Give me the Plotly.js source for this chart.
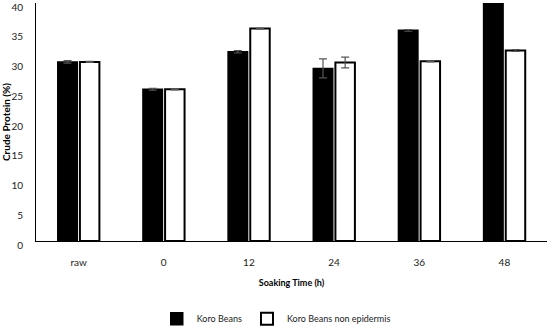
<!DOCTYPE html>
<html><head><meta charset="utf-8">
<script src="https://cdn.plot.ly/plotly-3.0.1.min.js"></script>
<style>html,body{margin:0;padding:0;background:#fff}#chart{width:550px;height:329px}</style>
</head><body><div id="chart"></div>
<script>
const categories = ["raw", "0", "12", "24", "36", "48"];
const koroBeans = [30.1, 25.5, 31.8, 29.0, 35.4, 40.5];
const koroBeansErr = [0.2, 0.15, 0.2, 1.6, 0.15, 0.2];
const koroNonEpidermis = [30.1, 25.5, 35.7, 30.0, 30.2, 32.0];
const koroNonEpidermisErr = [0.1, 0.1, 0.1, 0.9, 0.1, 0.15];
const yTicks = [0, 5, 10, 15, 20, 25, 30, 35, 40];

const font = "Lato, 'Open Sans', sans-serif";
const traces = [
  {type: "bar", name: "Koro Beans", x: categories, y: koroBeans,
   marker: {color: "#000", line: {color: "#000", width: 1.5}},
   error_y: {type: "data", array: koroBeansErr, visible: true, color: "#555", thickness: 1.2, width: 4}},
  {type: "bar", name: "Koro Beans non epidermis", x: categories, y: koroNonEpidermis,
   marker: {color: "#fff", line: {color: "#000", width: 2}},
   error_y: {type: "data", array: koroNonEpidermisErr, visible: true, color: "#555", thickness: 1.2, width: 4}}
];
const layout = {
  width: 550, height: 329,
  margin: {l: 36, r: 3, t: 3, b: 88},
  paper_bgcolor: "#fff", plot_bgcolor: "#fff",
  font: {family: font, size: 10, color: "#222"},
  barmode: "group", bargap: 0.48, bargroupgap: 0.12,
  showlegend: true,
  legend: {orientation: "h", xref: "container", yref: "container", x: 0.285, xanchor: "left",
           y: 0.075, yanchor: "top",
           font: {family: font, size: 9, color: "#222"}, itemwidth: 30, traceorder: "normal"},
  xaxis: {type: "category", showline: true, linecolor: "#000", linewidth: 1, ticks: "",
          showgrid: false, zeroline: false, ticklabelstandoff: 12, automargin: false,
          title: {text: "<b>Soaking Time (h)</b>", font: {family: font, size: 9, color: "#000"}, standoff: 12}},
  yaxis: {range: [0, 40], tickvals: yTicks, showline: true, linecolor: "#000", linewidth: 1,
          ticks: "", showgrid: false, zeroline: false, ticklabelstandoff: 10, ticklabelshift: 4,
          automargin: false,
          title: {text: "<b>Crude Protein (%)</b>", font: {family: font, size: 10, color: "#000"}, standoff: 6}}
};
Plotly.newPlot("chart", traces, layout, {displayModeBar: false, staticPlot: true});
</script></body></html>
